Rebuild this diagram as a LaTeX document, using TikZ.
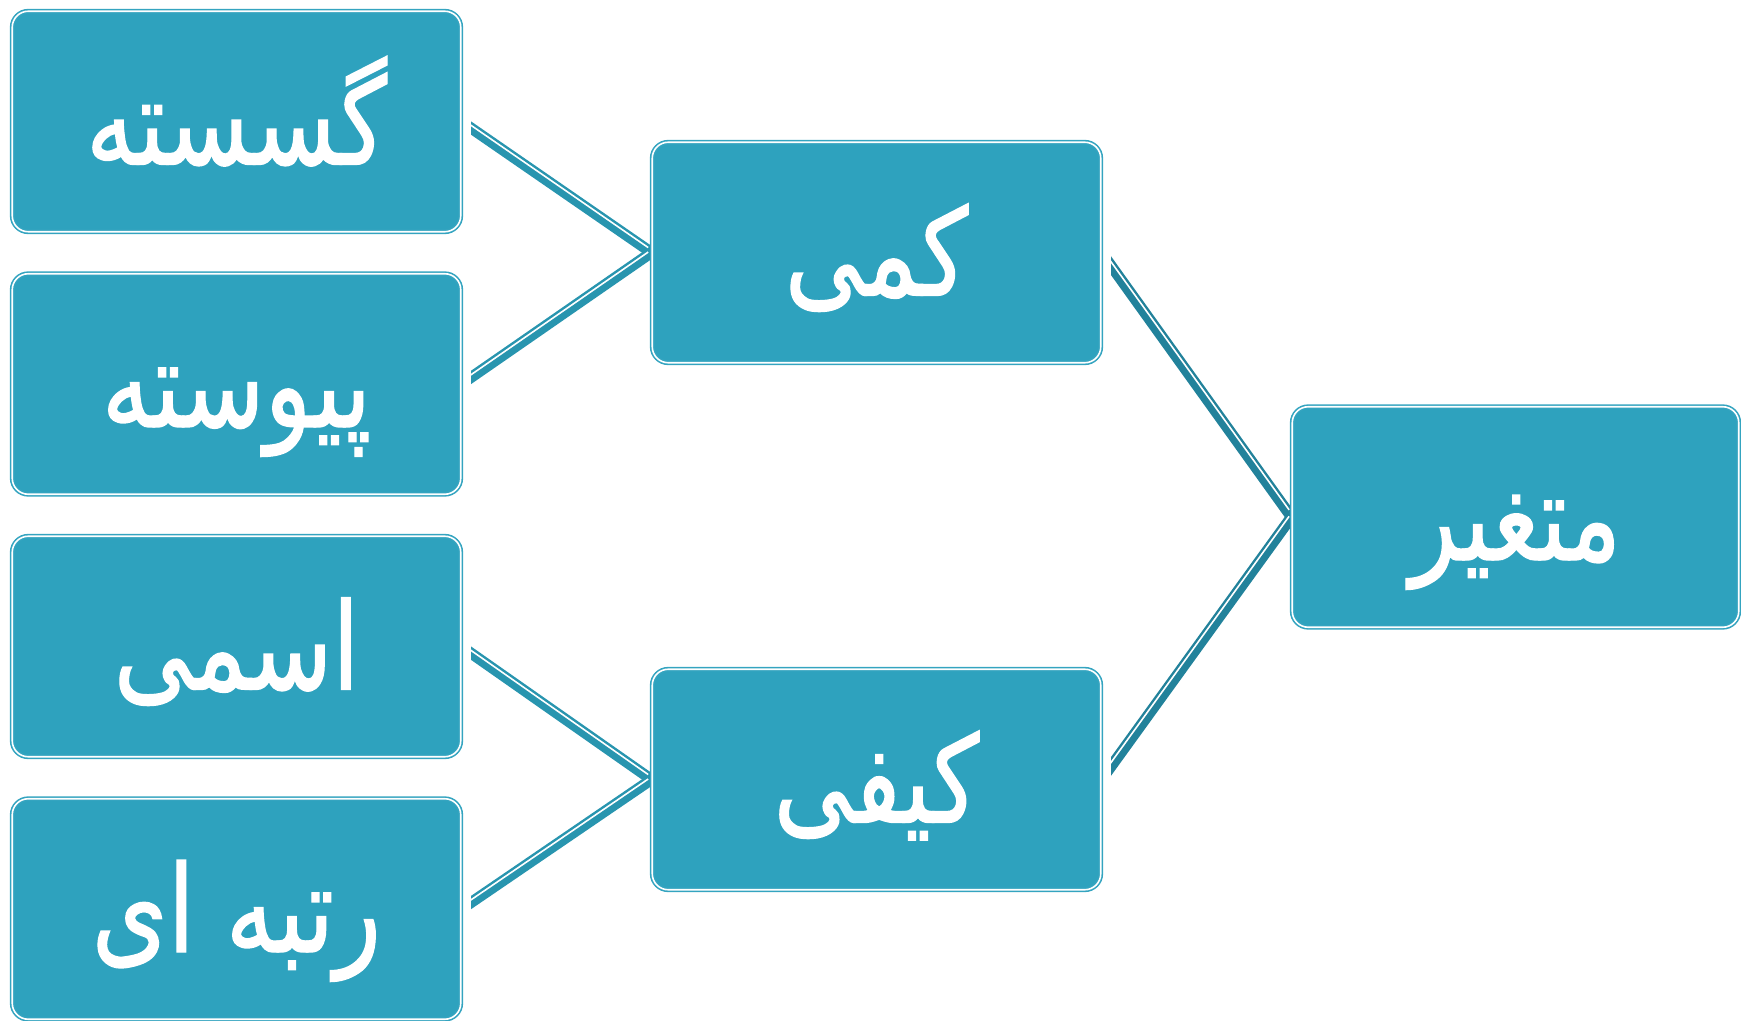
\documentclass[tikz,border=0pt]{standalone}
\usepackage{fontspec}
\TeXXeTstate=1
\newfontfamily\fafont[Script=Arabic, FakeBold=1.2]{DejaVu Sans}
\definecolor{boxfill}{HTML}{2EA2BE}
\definecolor{boxline}{HTML}{34A4C0}
\definecolor{linkL}{HTML}{2895AF}
\definecolor{linkR}{HTML}{22829B}
\tikzset{
  box/.style={rectangle, rounded corners=8pt, fill=boxfill, draw=boxline,
    line width=0.8pt, double=white, double distance=0.8pt,
    minimum width=224.25pt, minimum height=110.25pt, inner sep=0pt,
    text height=50pt, text depth=7pt,
    text=white, font=\fafont\fontsize{54}{60}\selectfont},
  rbox/.style={box, minimum width=223.25pt},
  ghost/.style={draw=none, fill=none, double=none},
  linkbase/.style={line width=5.5pt, shorten >=-2pt},
  stripe/.style={white, line width=0.8pt, shorten >=2pt},
}
\newcommand{\fa}[1]{\scalebox{0.9}[1.12]{\beginR #1\endR}}
\begin{document}
\begin{tikzpicture}[x=0.5pt,y=-0.5pt]
\useasboundingbox (0,0) rectangle (1741,1021);
% node positions
\coordinate (pb1) at (236.5,121.5);
\coordinate (pb2) at (236.5,384);
\coordinate (pb3) at (236.5,646.5);
\coordinate (pb4) at (236.5,909);
\coordinate (pm1) at (876.5,252.5);
\coordinate (pm2) at (876.5,779.5);
\coordinate (pr) at (1515.5,517);
% invisible anchors for connector geometry
\node[box, ghost] (b1) at (pb1) {};
\node[box, ghost] (b2) at (pb2) {};
\node[box, ghost] (b3) at (pb3) {};
\node[box, ghost] (b4) at (pb4) {};
\node[box, ghost] (m1) at (pm1) {};
\node[box, ghost] (m2) at (pm2) {};
\node[rbox, ghost] (r) at (pr) {};
% connectors left
\begin{scope}
\clip (471,0) rectangle (1290,1021);
\draw[linkbase, linkL] (b1.east) -- (m1.west);
\draw[linkbase, linkL] (b2.east) -- (m1.west);
\draw[linkbase, linkL] (b3.east) -- (m2.west);
\draw[linkbase, linkL] (b4.east) -- (m2.west);
\draw[stripe] ([yshift=1.35pt]b1.east) -- ([yshift=1.35pt]m1.west);
\draw[stripe] ([yshift=1.35pt]b2.east) -- ([yshift=1.35pt]m1.west);
\draw[stripe] ([yshift=1.35pt]b3.east) -- ([yshift=1.35pt]m2.west);
\draw[stripe] ([yshift=1.35pt]b4.east) -- ([yshift=1.35pt]m2.west);
\end{scope}
% connectors right
\begin{scope}
\clip (1111,0) rectangle (1741,1021);
\draw[linkbase, linkR] (m1.east) -- (r.west);
\draw[linkbase, linkR] (m2.east) -- (r.west);
\draw[stripe] ([yshift=1.95pt]m1.east) -- ([yshift=1.95pt]r.west);
\draw[stripe] ([yshift=1.95pt]m2.east) -- ([yshift=1.95pt]r.west);
\end{scope}
% boxes
\node[box] (B1) at (pb1) {\fa{گسسته}};
\node[box] (B2) at (pb2) {\fa{پیوسته}};
\node[box] (B3) at (pb3) {\fa{اسمی}};
\node[box] (B4) at (pb4) {\fa{رتبه ای}};
\node[box] (M1) at (pm1) {\fa{کمی}};
\node[box] (M2) at (pm2) {\fa{کیفی}};
\node[rbox] (R) at (pr) {\fa{متغیر}};
\end{tikzpicture}
\end{document}
